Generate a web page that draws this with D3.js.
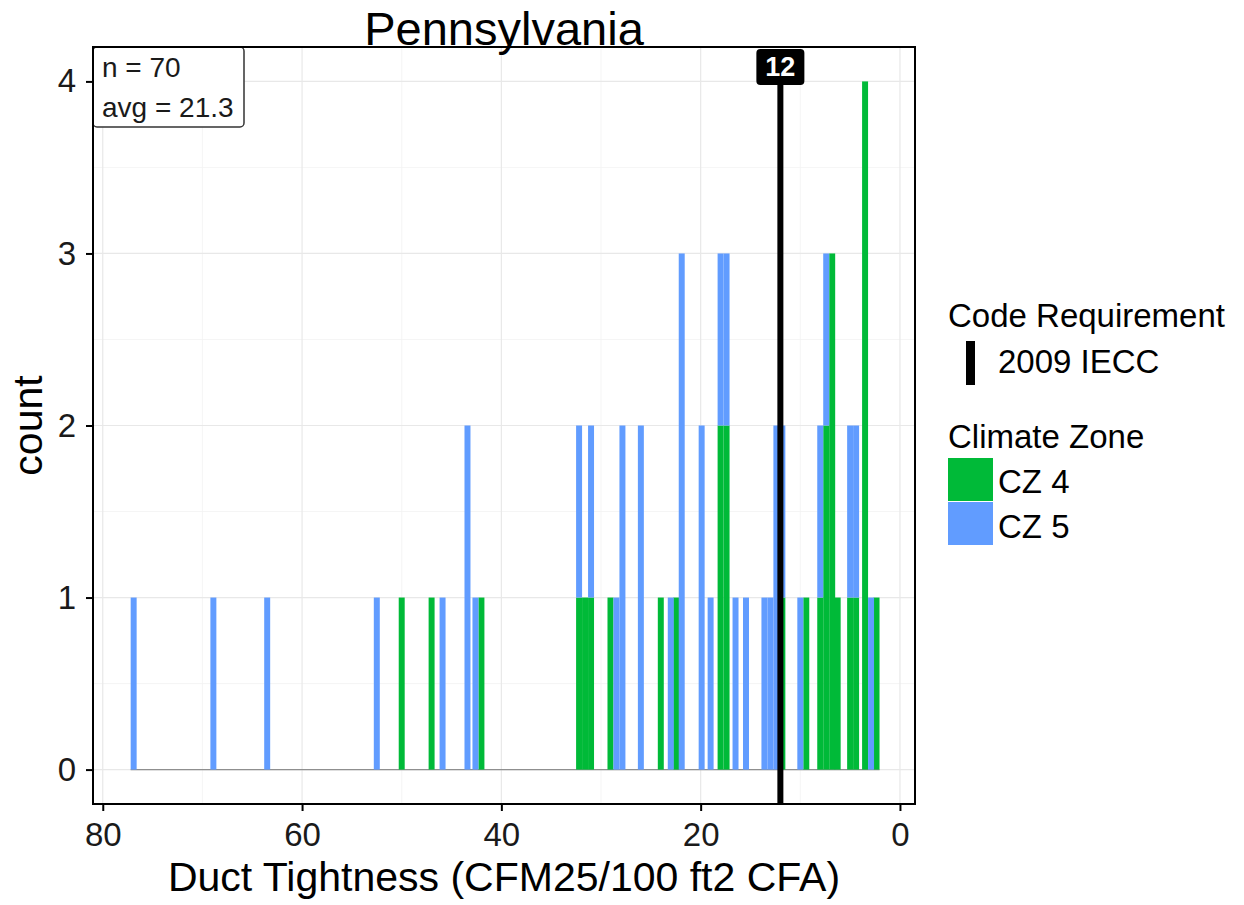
<!DOCTYPE html>
<html>
<head>
<meta charset="utf-8">
<script src="https://cdn.jsdelivr.net/npm/d3@7"></script>
<style>
  html, body { margin: 0; padding: 0; background: #ffffff; }
  svg { display: block; font-family: "Liberation Sans", Arial, sans-serif; }
</style>
</head>
<body>
<svg id="chart" width="1244" height="905"></svg>
<script>
// ---------------- DATA ----------------
const chartTitle = "Pennsylvania";
const xTitle = "Duct Tightness (CFM25/100 ft2 CFA)";
const yTitle = "count";
const binWidth = 0.6;
// bin midpoints (CFM25/100 ft2 CFA)
const binCenters = [76.9, 68.9, 63.5, 52.5, 50.0, 47.0, 45.9, 43.4, 42.6, 42.0,
                    32.2, 31.6, 31.0, 29.05, 28.45, 27.85, 26.0, 24.0, 23.0, 22.45,
                    21.9, 19.9, 19.0, 18.0, 17.4, 16.5, 15.45, 13.6, 13.0, 12.4,
                    11.8, 10.0, 9.4, 8.0, 7.4, 6.8, 6.25, 5.0, 4.4, 3.5,
                    2.9, 2.35];
const cz4Counts = [0, 0, 0, 0, 1, 1, 0, 0, 0, 1,
                   1, 1, 1, 1, 0, 0, 0, 1, 0, 1,
                   0, 0, 0, 2, 2, 0, 0, 0, 0, 0,
                   1, 0, 1, 1, 2, 3, 1, 1, 1, 4,
                   0, 1];
const cz5Counts = [1, 1, 1, 1, 0, 0, 1, 2, 1, 0,
                   1, 0, 1, 0, 1, 2, 2, 0, 1, 0,
                   3, 2, 1, 1, 1, 1, 1, 1, 1, 2,
                   1, 1, 0, 1, 1, 0, 0, 1, 1, 0,
                   1, 0];
const seriesKeys = ["cz4", "cz5"];
const seriesLabels = ["CZ 4", "CZ 5"];
const seriesColors = ["#00BA38", "#619CFF"];
const xTicks = [80, 60, 40, 20, 0];
const xMinorTicks = [70, 50, 30, 10];
const yTicks = [0, 1, 2, 3, 4];
const yMinorTicks = [0.5, 1.5, 2.5, 3.5];
const codeRequirement = 12;
const codeLabel = "2009 IECC";
const nObs = 70;
const avgValue = 21.3;

// ---------------- LAYOUT ----------------
const FONT = '"Liberation Sans", Arial, sans-serif';
const P = { left: 93, right: 915, top: 47, bottom: 804 };
const svg = d3.select("#chart");

const x = d3.scaleLinear().domain([80.98, -1.51]).range([P.left, P.right]);
const y = d3.scaleLinear().domain([-0.2, 4.2]).range([P.bottom, P.top]);

const rows = binCenters.map((c, i) => ({ center: c, cz4: cz4Counts[i], cz5: cz5Counts[i] }));
const stacked = d3.stack().keys(seriesKeys)(rows);

// gridlines
const grid = svg.append("g");
grid.selectAll(".vminor").data(xMinorTicks).join("line")
  .attr("x1", d => x(d)).attr("x2", d => x(d)).attr("y1", P.top).attr("y2", P.bottom)
  .attr("stroke", "#f3f3f3").attr("stroke-width", 0.8);
grid.selectAll(".hminor").data(yMinorTicks).join("line")
  .attr("y1", d => y(d)).attr("y2", d => y(d)).attr("x1", P.left).attr("x2", P.right)
  .attr("stroke", "#f3f3f3").attr("stroke-width", 0.8);
grid.selectAll(".vmajor").data(xTicks).join("line")
  .attr("x1", d => x(d)).attr("x2", d => x(d)).attr("y1", P.top).attr("y2", P.bottom)
  .attr("stroke", "#e8e8e8").attr("stroke-width", 1.2);
grid.selectAll(".hmajor").data(yTicks).join("line")
  .attr("y1", d => y(d)).attr("y2", d => y(d)).attr("x1", P.left).attr("x2", P.right)
  .attr("stroke", "#e8e8e8").attr("stroke-width", 1.2);

// zero baseline of histogram
const ext = d3.extent(binCenters);
svg.append("line")
  .attr("x1", x(ext[1] + binWidth / 2)).attr("x2", x(ext[0] - binWidth / 2))
  .attr("y1", y(0)).attr("y2", y(0))
  .attr("stroke", "#8f8f8f").attr("stroke-width", 1.2);

// bars
svg.append("g").selectAll("g").data(stacked).join("g")
  .attr("fill", (d, i) => seriesColors[i])
  .selectAll("rect").data(d => d.filter(s => s[1] > s[0])).join("rect")
  .attr("x", d => x(d.data.center + binWidth / 2))
  .attr("width", d => x(d.data.center - binWidth / 2) - x(d.data.center + binWidth / 2))
  .attr("y", d => y(d[1]))
  .attr("height", d => y(d[0]) - y(d[1]));

// code requirement line
svg.append("line")
  .attr("x1", x(codeRequirement)).attr("x2", x(codeRequirement))
  .attr("y1", 84).attr("y2", P.bottom + 1)
  .attr("stroke", "#000").attr("stroke-width", 6);
svg.append("rect")
  .attr("x", x(codeRequirement) - 24).attr("y", 49).attr("width", 48).attr("height", 36)
  .attr("rx", 4).attr("fill", "#000");
svg.append("text")
  .attr("x", x(codeRequirement)).attr("y", 76).attr("text-anchor", "middle")
  .attr("font-size", 27).attr("font-weight", "bold").attr("fill", "#fff")
  .attr("font-family", FONT).text(String(codeRequirement));

// annotation box
svg.append("rect")
  .attr("x", P.left).attr("y", P.top).attr("width", 151).attr("height", 80)
  .attr("rx", 4).attr("fill", "#fff").attr("stroke", "#333").attr("stroke-width", 1.5);
svg.append("text").attr("x", 102).attr("y", 77).attr("font-size", 28).attr("fill", "#1a1a1a")
  .attr("font-family", FONT).text("n = " + nObs);
svg.append("text").attr("x", 102).attr("y", 117).attr("font-size", 28).attr("fill", "#1a1a1a")
  .attr("font-family", FONT).text("avg = " + avgValue);

// panel border
svg.append("rect")
  .attr("x", P.left).attr("y", P.top).attr("width", P.right - P.left).attr("height", P.bottom - P.top)
  .attr("fill", "none").attr("stroke", "#000").attr("stroke-width", 2);

// axes
const xAxis = svg.append("g").attr("transform", `translate(0,${P.bottom})`)
  .call(d3.axisBottom(x).tickValues(xTicks).tickSize(7).tickPadding(12).tickFormat(d3.format("d")));
const yAxis = svg.append("g").attr("transform", `translate(${P.left},0)`)
  .call(d3.axisLeft(y).tickValues(yTicks).tickSize(7).tickPadding(10).tickFormat(d3.format("d")));
[xAxis, yAxis].forEach(a => {
  a.select(".domain").remove();
  a.selectAll(".tick line").attr("stroke", "#000").attr("stroke-width", 2);
  a.selectAll(".tick text").attr("font-size", 33).attr("fill", "#1a1a1a").attr("font-family", FONT);
});

// titles
svg.append("text").attr("x", (P.left + P.right) / 2).attr("y", 45).attr("text-anchor", "middle")
  .attr("font-size", 47).attr("fill", "#000").attr("font-family", FONT).text(chartTitle);
svg.append("text").attr("x", (P.left + P.right) / 2).attr("y", 891).attr("text-anchor", "middle")
  .attr("font-size", 41).attr("fill", "#000").attr("font-family", FONT).text(xTitle);
svg.append("text").attr("transform", `translate(42,${(P.top + P.bottom) / 2}) rotate(-90)`)
  .attr("text-anchor", "middle")
  .attr("font-size", 41).attr("fill", "#000").attr("font-family", FONT).text(yTitle);

// legend
const lg = svg.append("g").attr("font-family", FONT).attr("fill", "#000");
lg.append("text").attr("x", 948).attr("y", 327).attr("font-size", 33).text("Code Requirement");
lg.append("rect").attr("x", 966).attr("y", 341).attr("width", 9).attr("height", 44).attr("fill", "#000");
lg.append("text").attr("x", 998).attr("y", 373).attr("font-size", 33).text(codeLabel);
lg.append("text").attr("x", 948).attr("y", 448).attr("font-size", 33).text("Climate Zone");
lg.selectAll(".key").data(seriesLabels).join("rect")
  .attr("x", 948).attr("y", (d, i) => 458 + i * 44).attr("width", 45).attr("height", 43)
  .attr("fill", (d, i) => seriesColors[i]);
lg.selectAll(".lab").data(seriesLabels).join("text")
  .attr("x", 998).attr("y", (d, i) => 493 + i * 45).attr("font-size", 33).text(d => d);
</script>
</body>
</html>
